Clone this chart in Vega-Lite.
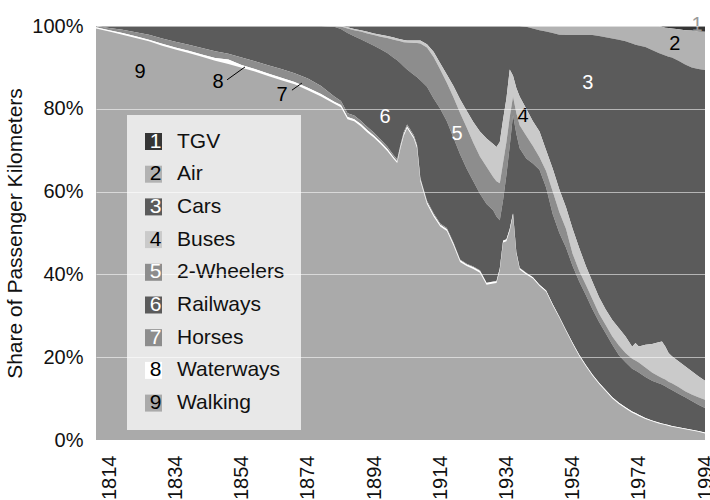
{
  "$schema": "https://vega.github.io/schema/vega-lite/v6.json",
  "width": 609,
  "height": 414,
  "autosize": {"type": "none"},
  "padding": {"left": 96, "top": 26, "right": 5, "bottom": 60},
  "background": "white",
  "config": {"font": "Liberation Sans", "view": {"stroke": null}},
  "layer": [
    {
      "data": {"values": [
        {"year":1810,"9 Walking":99.4,"8 Waterways":0.3,"7 Horses":0.3,"6 Railways":0,"5 2-Wheelers":0,"4 Buses":0,"3 Cars":0,"2 Air":0,"1 TGV":0},
        {"year":1814,"9 Walking":98.7,"8 Waterways":0.3,"7 Horses":0.5,"6 Railways":0.5,"5 2-Wheelers":0,"4 Buses":0,"3 Cars":0,"2 Air":0,"1 TGV":0},
        {"year":1818,"9 Walking":97.9,"8 Waterways":0.4,"7 Horses":0.8,"6 Railways":0.9,"5 2-Wheelers":0,"4 Buses":0,"3 Cars":0,"2 Air":0,"1 TGV":0},
        {"year":1822,"9 Walking":97.1,"8 Waterways":0.4,"7 Horses":1.0,"6 Railways":1.5,"5 2-Wheelers":0,"4 Buses":0,"3 Cars":0,"2 Air":0,"1 TGV":0},
        {"year":1826,"9 Walking":96.3,"8 Waterways":0.4,"7 Horses":1.2,"6 Railways":2.1,"5 2-Wheelers":0,"4 Buses":0,"3 Cars":0,"2 Air":0,"1 TGV":0},
        {"year":1830,"9 Walking":95.2,"8 Waterways":0.5,"7 Horses":1.3,"6 Railways":3.0,"5 2-Wheelers":0,"4 Buses":0,"3 Cars":0,"2 Air":0,"1 TGV":0},
        {"year":1834,"9 Walking":94.3,"8 Waterways":0.5,"7 Horses":1.4,"6 Railways":3.8,"5 2-Wheelers":0,"4 Buses":0,"3 Cars":0,"2 Air":0,"1 TGV":0},
        {"year":1838,"9 Walking":93.5,"8 Waterways":0.5,"7 Horses":1.5,"6 Railways":4.5,"5 2-Wheelers":0,"4 Buses":0,"3 Cars":0,"2 Air":0,"1 TGV":0},
        {"year":1842,"9 Walking":92.6,"8 Waterways":0.5,"7 Horses":1.6,"6 Railways":5.3,"5 2-Wheelers":0,"4 Buses":0,"3 Cars":0,"2 Air":0,"1 TGV":0},
        {"year":1846,"9 Walking":91.6,"8 Waterways":0.7,"7 Horses":1.6,"6 Railways":6.1,"5 2-Wheelers":0,"4 Buses":0,"3 Cars":0,"2 Air":0,"1 TGV":0},
        {"year":1850,"9 Walking":90.8,"8 Waterways":1.1,"7 Horses":1.4,"6 Railways":6.7,"5 2-Wheelers":0,"4 Buses":0,"3 Cars":0,"2 Air":0,"1 TGV":0},
        {"year":1854,"9 Walking":89.9,"8 Waterways":0.7,"7 Horses":1.8,"6 Railways":7.6,"5 2-Wheelers":0,"4 Buses":0,"3 Cars":0,"2 Air":0,"1 TGV":0},
        {"year":1858,"9 Walking":89.0,"8 Waterways":0.6,"7 Horses":1.9,"6 Railways":8.5,"5 2-Wheelers":0,"4 Buses":0,"3 Cars":0,"2 Air":0,"1 TGV":0},
        {"year":1862,"9 Walking":87.9,"8 Waterways":0.6,"7 Horses":2.0,"6 Railways":9.5,"5 2-Wheelers":0,"4 Buses":0,"3 Cars":0,"2 Air":0,"1 TGV":0},
        {"year":1866,"9 Walking":86.9,"8 Waterways":0.6,"7 Horses":2.1,"6 Railways":10.4,"5 2-Wheelers":0,"4 Buses":0,"3 Cars":0,"2 Air":0,"1 TGV":0},
        {"year":1870,"9 Walking":85.9,"8 Waterways":0.6,"7 Horses":2.1,"6 Railways":11.4,"5 2-Wheelers":0,"4 Buses":0,"3 Cars":0,"2 Air":0,"1 TGV":0},
        {"year":1874,"9 Walking":84.5,"8 Waterways":0.6,"7 Horses":2.2,"6 Railways":12.7,"5 2-Wheelers":0,"4 Buses":0,"3 Cars":0,"2 Air":0,"1 TGV":0},
        {"year":1878,"9 Walking":83.0,"8 Waterways":0.6,"7 Horses":1.9,"6 Railways":14.5,"5 2-Wheelers":0,"4 Buses":0,"3 Cars":0,"2 Air":0,"1 TGV":0},
        {"year":1882,"9 Walking":81.2,"8 Waterways":0.5,"7 Horses":1.3,"6 Railways":16.8,"5 2-Wheelers":0.2,"4 Buses":0,"3 Cars":0,"2 Air":0,"1 TGV":0},
        {"year":1884,"9 Walking":80.4,"8 Waterways":0.5,"7 Horses":1.0,"6 Railways":17.4,"5 2-Wheelers":0.6,"4 Buses":0.1,"3 Cars":0,"2 Air":0,"1 TGV":0},
        {"year":1886,"9 Walking":77.5,"8 Waterways":0.5,"7 Horses":0.9,"6 Railways":19.4,"5 2-Wheelers":1.1,"4 Buses":0.3,"3 Cars":0.3,"2 Air":0,"1 TGV":0},
        {"year":1888,"9 Walking":77.0,"8 Waterways":0.5,"7 Horses":0.9,"6 Railways":19.1,"5 2-Wheelers":1.5,"4 Buses":0.3,"3 Cars":0.7,"2 Air":0,"1 TGV":0},
        {"year":1890,"9 Walking":75.8,"8 Waterways":0.5,"7 Horses":0.8,"6 Railways":19.7,"5 2-Wheelers":1.9,"4 Buses":0.3,"3 Cars":1.0,"2 Air":0,"1 TGV":0},
        {"year":1892,"9 Walking":74.3,"8 Waterways":0.5,"7 Horses":0.8,"6 Railways":20.4,"5 2-Wheelers":2.2,"4 Buses":0.4,"3 Cars":1.4,"2 Air":0,"1 TGV":0},
        {"year":1894,"9 Walking":73.0,"8 Waterways":0.5,"7 Horses":0.7,"6 Railways":21.0,"5 2-Wheelers":2.6,"4 Buses":0.4,"3 Cars":1.8,"2 Air":0,"1 TGV":0},
        {"year":1896,"9 Walking":71.5,"8 Waterways":0.5,"7 Horses":0.6,"6 Railways":21.8,"5 2-Wheelers":3.0,"4 Buses":0.5,"3 Cars":2.1,"2 Air":0,"1 TGV":0},
        {"year":1898,"9 Walking":69.8,"8 Waterways":0.5,"7 Horses":0.6,"6 Railways":22.6,"5 2-Wheelers":3.6,"4 Buses":0.5,"3 Cars":2.4,"2 Air":0,"1 TGV":0},
        {"year":1900,"9 Walking":67.8,"8 Waterways":0.4,"7 Horses":0.5,"6 Railways":23.6,"5 2-Wheelers":4.4,"4 Buses":0.5,"3 Cars":2.8,"2 Air":0,"1 TGV":0},
        {"year":1901,"9 Walking":66.9,"8 Waterways":0.4,"7 Horses":0.5,"6 Railways":23.9,"5 2-Wheelers":4.8,"4 Buses":0.5,"3 Cars":3.0,"2 Air":0,"1 TGV":0},
        {"year":1902,"9 Walking":70.5,"8 Waterways":0.4,"7 Horses":0.5,"6 Railways":19.6,"5 2-Wheelers":5.3,"4 Buses":0.5,"3 Cars":3.2,"2 Air":0,"1 TGV":0},
        {"year":1903,"9 Walking":73.5,"8 Waterways":0.4,"7 Horses":0.5,"6 Railways":15.8,"5 2-Wheelers":5.9,"4 Buses":0.5,"3 Cars":3.4,"2 Air":0,"1 TGV":0},
        {"year":1904,"9 Walking":75.3,"8 Waterways":0.4,"7 Horses":0.5,"6 Railways":13.3,"5 2-Wheelers":6.5,"4 Buses":0.5,"3 Cars":3.5,"2 Air":0,"1 TGV":0},
        {"year":1906,"9 Walking":72.8,"8 Waterways":0.4,"7 Horses":0.5,"6 Railways":14.5,"5 2-Wheelers":7.7,"4 Buses":0.6,"3 Cars":3.5,"2 Air":0,"1 TGV":0},
        {"year":1907,"9 Walking":70.5,"8 Waterways":0.4,"7 Horses":0.4,"6 Railways":16.3,"5 2-Wheelers":8.3,"4 Buses":0.6,"3 Cars":3.5,"2 Air":0,"1 TGV":0},
        {"year":1908,"9 Walking":62.5,"8 Waterways":0.4,"7 Horses":0.4,"6 Railways":23.6,"5 2-Wheelers":8.9,"4 Buses":0.7,"3 Cars":3.5,"2 Air":0,"1 TGV":0},
        {"year":1910,"9 Walking":57.0,"8 Waterways":0.4,"7 Horses":0.4,"6 Railways":27.5,"5 2-Wheelers":9.5,"4 Buses":0.8,"3 Cars":4.4,"2 Air":0,"1 TGV":0},
        {"year":1912,"9 Walking":54.0,"8 Waterways":0.4,"7 Horses":0.4,"6 Railways":27.7,"5 2-Wheelers":10.0,"4 Buses":1.3,"3 Cars":6.2,"2 Air":0,"1 TGV":0},
        {"year":1914,"9 Walking":51.6,"8 Waterways":0.4,"7 Horses":0.3,"6 Railways":27.7,"5 2-Wheelers":9.5,"4 Buses":1.5,"3 Cars":9.0,"2 Air":0,"1 TGV":0},
        {"year":1916,"9 Walking":50.5,"8 Waterways":0.4,"7 Horses":0.3,"6 Railways":25.8,"5 2-Wheelers":9.3,"4 Buses":2.0,"3 Cars":11.7,"2 Air":0,"1 TGV":0},
        {"year":1918,"9 Walking":47.0,"8 Waterways":0.4,"7 Horses":0.3,"6 Railways":25.3,"5 2-Wheelers":9.8,"4 Buses":2.7,"3 Cars":14.5,"2 Air":0,"1 TGV":0},
        {"year":1920,"9 Walking":43.0,"8 Waterways":0.4,"7 Horses":0.2,"6 Railways":25.4,"5 2-Wheelers":10.0,"4 Buses":3.3,"3 Cars":17.7,"2 Air":0,"1 TGV":0},
        {"year":1922,"9 Walking":42.0,"8 Waterways":0.4,"7 Horses":0.2,"6 Railways":22.9,"5 2-Wheelers":10.0,"4 Buses":4.0,"3 Cars":20.5,"2 Air":0,"1 TGV":0},
        {"year":1924,"9 Walking":41.3,"8 Waterways":0.4,"7 Horses":0.2,"6 Railways":20.6,"5 2-Wheelers":9.3,"4 Buses":5.0,"3 Cars":23.2,"2 Air":0,"1 TGV":0},
        {"year":1926,"9 Walking":40.4,"8 Waterways":0.4,"7 Horses":0.2,"6 Railways":18.5,"5 2-Wheelers":9.0,"4 Buses":6.0,"3 Cars":25.5,"2 Air":0,"1 TGV":0},
        {"year":1928,"9 Walking":37.5,"8 Waterways":0.4,"7 Horses":0.1,"6 Railways":19.0,"5 2-Wheelers":9.0,"4 Buses":6.8,"3 Cars":27.2,"2 Air":0,"1 TGV":0},
        {"year":1930,"9 Walking":37.8,"8 Waterways":0.4,"7 Horses":0.1,"6 Railways":17.2,"5 2-Wheelers":8.0,"4 Buses":8.0,"3 Cars":28.5,"2 Air":0,"1 TGV":0},
        {"year":1931,"9 Walking":37.9,"8 Waterways":0.4,"7 Horses":0.1,"6 Railways":15.6,"5 2-Wheelers":8.5,"4 Buses":8.3,"3 Cars":29.2,"2 Air":0,"1 TGV":0},
        {"year":1932,"9 Walking":41.0,"8 Waterways":0.4,"7 Horses":0.1,"6 Railways":11.6,"5 2-Wheelers":8.9,"4 Buses":10.0,"3 Cars":28.0,"2 Air":0,"1 TGV":0},
        {"year":1933,"9 Walking":47.7,"8 Waterways":0.4,"7 Horses":0.1,"6 Railways":9.8,"5 2-Wheelers":9.0,"4 Buses":10.5,"3 Cars":22.5,"2 Air":0,"1 TGV":0},
        {"year":1934,"9 Walking":48.0,"8 Waterways":0.4,"7 Horses":0.1,"6 Railways":15.5,"5 2-Wheelers":8.0,"4 Buses":10.5,"3 Cars":17.5,"2 Air":0,"1 TGV":0},
        {"year":1935,"9 Walking":50.5,"8 Waterways":0.4,"7 Horses":0.1,"6 Railways":20.0,"5 2-Wheelers":7.0,"4 Buses":11.5,"3 Cars":10.5,"2 Air":0,"1 TGV":0},
        {"year":1936,"9 Walking":54.3,"8 Waterways":0.4,"7 Horses":0.1,"6 Railways":23.7,"5 2-Wheelers":4.5,"4 Buses":5.0,"3 Cars":12.0,"2 Air":0,"1 TGV":0},
        {"year":1937,"9 Walking":45.0,"8 Waterways":0.3,"7 Horses":0.1,"6 Railways":28.6,"5 2-Wheelers":5.0,"4 Buses":6.0,"3 Cars":15.0,"2 Air":0,"1 TGV":0},
        {"year":1938,"9 Walking":41.2,"8 Waterways":0.3,"7 Horses":0.1,"6 Railways":28.9,"5 2-Wheelers":5.5,"4 Buses":7.0,"3 Cars":17.0,"2 Air":0,"1 TGV":0},
        {"year":1940,"9 Walking":40.0,"8 Waterways":0.3,"7 Horses":0.1,"6 Railways":27.6,"5 2-Wheelers":5.5,"4 Buses":6.5,"3 Cars":19.8,"2 Air":0.2,"1 TGV":0},
        {"year":1942,"9 Walking":39.0,"8 Waterways":0.3,"7 Horses":0,"6 Railways":27.5,"5 2-Wheelers":4.2,"4 Buses":6.0,"3 Cars":22.4,"2 Air":0.6,"1 TGV":0},
        {"year":1944,"9 Walking":37.2,"8 Waterways":0.3,"7 Horses":0,"6 Railways":27.8,"5 2-Wheelers":3.0,"4 Buses":6.2,"3 Cars":24.5,"2 Air":1.0,"1 TGV":0},
        {"year":1946,"9 Walking":35.8,"8 Waterways":0.3,"7 Horses":0,"6 Railways":24.9,"5 2-Wheelers":4.0,"4 Buses":5.0,"3 Cars":28.7,"2 Air":1.3,"1 TGV":0},
        {"year":1948,"9 Walking":32.5,"8 Waterways":0.3,"7 Horses":0,"6 Railways":21.7,"5 2-Wheelers":5.5,"4 Buses":5.5,"3 Cars":32.8,"2 Air":1.7,"1 TGV":0},
        {"year":1950,"9 Walking":29.5,"8 Waterways":0.3,"7 Horses":0,"6 Railways":20.2,"5 2-Wheelers":5.0,"4 Buses":5.5,"3 Cars":37.4,"2 Air":2.1,"1 TGV":0},
        {"year":1952,"9 Walking":26.3,"8 Waterways":0.3,"7 Horses":0,"6 Railways":19.9,"5 2-Wheelers":4.5,"4 Buses":5.2,"3 Cars":41.6,"2 Air":2.2,"1 TGV":0},
        {"year":1954,"9 Walking":23.2,"8 Waterways":0.3,"7 Horses":0,"6 Railways":18.5,"5 2-Wheelers":3.0,"4 Buses":6.0,"3 Cars":46.8,"2 Air":2.2,"1 TGV":0},
        {"year":1956,"9 Walking":20.3,"8 Waterways":0.3,"7 Horses":0,"6 Railways":17.7,"5 2-Wheelers":2.5,"4 Buses":5.6,"3 Cars":51.4,"2 Air":2.2,"1 TGV":0},
        {"year":1958,"9 Walking":17.8,"8 Waterways":0.3,"7 Horses":0,"6 Railways":16.9,"5 2-Wheelers":2.5,"4 Buses":4.5,"3 Cars":55.8,"2 Air":2.2,"1 TGV":0},
        {"year":1960,"9 Walking":15.5,"8 Waterways":0.3,"7 Horses":0,"6 Railways":15.8,"5 2-Wheelers":2.4,"4 Buses":4.2,"3 Cars":59.6,"2 Air":2.2,"1 TGV":0},
        {"year":1962,"9 Walking":13.5,"8 Waterways":0.3,"7 Horses":0,"6 Railways":14.7,"5 2-Wheelers":2.0,"4 Buses":4.0,"3 Cars":63.1,"2 Air":2.4,"1 TGV":0},
        {"year":1964,"9 Walking":11.8,"8 Waterways":0.3,"7 Horses":0,"6 Railways":13.7,"5 2-Wheelers":2.0,"4 Buses":3.7,"3 Cars":65.8,"2 Air":2.7,"1 TGV":0},
        {"year":1966,"9 Walking":10.0,"8 Waterways":0.3,"7 Horses":0,"6 Railways":12.7,"5 2-Wheelers":2.0,"4 Buses":4.0,"3 Cars":68.0,"2 Air":3.0,"1 TGV":0},
        {"year":1968,"9 Walking":8.7,"8 Waterways":0.3,"7 Horses":0,"6 Railways":11.5,"5 2-Wheelers":2.3,"4 Buses":4.2,"3 Cars":69.7,"2 Air":3.3,"1 TGV":0},
        {"year":1970,"9 Walking":7.6,"8 Waterways":0.3,"7 Horses":0,"6 Railways":10.9,"5 2-Wheelers":2.2,"4 Buses":4.0,"3 Cars":71.3,"2 Air":3.7,"1 TGV":0},
        {"year":1972,"9 Walking":6.6,"8 Waterways":0.3,"7 Horses":0,"6 Railways":10.3,"5 2-Wheelers":2.4,"4 Buses":2.9,"3 Cars":73.3,"2 Air":4.2,"1 TGV":0},
        {"year":1973,"9 Walking":6.2,"8 Waterways":0.3,"7 Horses":0,"6 Railways":10.3,"5 2-Wheelers":2.4,"4 Buses":4.2,"3 Cars":72.1,"2 Air":4.5,"1 TGV":0},
        {"year":1974,"9 Walking":5.8,"8 Waterways":0.3,"7 Horses":0,"6 Railways":10.2,"5 2-Wheelers":2.4,"4 Buses":3.9,"3 Cars":72.7,"2 Air":4.7,"1 TGV":0},
        {"year":1976,"9 Walking":5.1,"8 Waterways":0.2,"7 Horses":0,"6 Railways":9.9,"5 2-Wheelers":2.3,"4 Buses":5.5,"3 Cars":71.9,"2 Air":5.1,"1 TGV":0},
        {"year":1978,"9 Walking":4.5,"8 Waterways":0.2,"7 Horses":0,"6 Railways":9.6,"5 2-Wheelers":2.0,"4 Buses":6.9,"3 Cars":71.0,"2 Air":5.8,"1 TGV":0},
        {"year":1980,"9 Walking":4.0,"8 Waterways":0.2,"7 Horses":0,"6 Railways":9.5,"5 2-Wheelers":1.7,"4 Buses":8.2,"3 Cars":69.9,"2 Air":6.5,"1 TGV":0},
        {"year":1981,"9 Walking":3.8,"8 Waterways":0.2,"7 Horses":0,"6 Railways":9.4,"5 2-Wheelers":1.6,"4 Buses":8.8,"3 Cars":69.4,"2 Air":6.6,"1 TGV":0.2},
        {"year":1982,"9 Walking":3.6,"8 Waterways":0.2,"7 Horses":0,"6 Railways":9.2,"5 2-Wheelers":1.6,"4 Buses":8.0,"3 Cars":70.3,"2 Air":6.7,"1 TGV":0.4},
        {"year":1983,"9 Walking":3.4,"8 Waterways":0.2,"7 Horses":0,"6 Railways":8.9,"5 2-Wheelers":1.6,"4 Buses":6.9,"3 Cars":71.6,"2 Air":6.9,"1 TGV":0.5},
        {"year":1984,"9 Walking":3.2,"8 Waterways":0.2,"7 Horses":0,"6 Railways":8.7,"5 2-Wheelers":1.6,"4 Buses":6.5,"3 Cars":72.2,"2 Air":7.0,"1 TGV":0.6},
        {"year":1986,"9 Walking":2.9,"8 Waterways":0.2,"7 Horses":0,"6 Railways":8.1,"5 2-Wheelers":1.6,"4 Buses":6.2,"3 Cars":72.6,"2 Air":7.6,"1 TGV":0.8},
        {"year":1988,"9 Walking":2.6,"8 Waterways":0.2,"7 Horses":0,"6 Railways":7.5,"5 2-Wheelers":1.5,"4 Buses":6.0,"3 Cars":72.9,"2 Air":8.3,"1 TGV":1.0},
        {"year":1990,"9 Walking":2.3,"8 Waterways":0.2,"7 Horses":0,"6 Railways":6.9,"5 2-Wheelers":1.6,"4 Buses":5.6,"3 Cars":73.4,"2 Air":8.9,"1 TGV":1.1},
        {"year":1992,"9 Walking":2.0,"8 Waterways":0.2,"7 Horses":0,"6 Railways":6.3,"5 2-Wheelers":1.8,"4 Buses":5.1,"3 Cars":74.2,"2 Air":9.1,"1 TGV":1.3},
        {"year":1994,"9 Walking":1.6,"8 Waterways":0.2,"7 Horses":0,"6 Railways":5.9,"5 2-Wheelers":2.0,"4 Buses":4.6,"3 Cars":75.1,"2 Air":9.2,"1 TGV":1.4}
      ]},
      "transform": [
        {"fold": ["1 TGV","2 Air","3 Cars","4 Buses","5 2-Wheelers","6 Railways","7 Horses","8 Waterways","9 Walking"], "as": ["key","share"]}
      ],
      "mark": {"type": "area", "interpolate": "linear"},
      "encoding": {
        "x": {"field": "year", "type": "quantitative", "title": null,
          "scale": {"domain": [1810, 1994], "nice": false, "zero": false},
          "axis": {"values": [1814,1834,1854,1874,1894,1914,1934,1954,1974,1994], "format": "d", "labelAngle": -90,
            "labelFontSize": 20, "labelColor": "#111111", "labelPadding": 15, "grid": false, "ticks": false, "domain": false,
            "labelFlush": false, "labelOverlap": false}},
        "y": {"field": "share", "type": "quantitative", "stack": "normalize", "title": "Share of Passenger Kilometers",
          "scale": {"domain": [0, 1], "nice": false},
          "axis": {"values": [0,0.2,0.4,0.6,0.8,1], "format": ".0%", "grid": true, "gridColor": "#ffffff", "gridOpacity": 0.55,
            "domain": false, "ticks": false, "labelFontSize": 20, "labelColor": "#111111", "labelPadding": 13,
            "titleFontSize": 21, "titleFontWeight": "normal", "titleColor": "#111111", "titlePadding": 6, "zindex": 1}},
        "color": {"field": "key", "type": "nominal",
          "scale": {"domain": ["1 TGV","2 Air","3 Cars","4 Buses","5 2-Wheelers","6 Railways","7 Horses","8 Waterways","9 Walking"],
            "range": ["#353535","#b2b2b2","#5b5b5b","#cacaca","#8d8d8d","#5b5b5b","#8d8d8d","#ffffff","#aaaaaa"]},
          "legend": {"orient": "none", "legendX": 31, "legendY": 89, "title": null, "padding": 16,
            "symbolType": "square", "symbolSize": 289, "symbolStrokeWidth": 0, "symbolOpacity": 1,
            "labelFontSize": 21, "labelFont": "Liberation Sans", "labelAlign": "center", "labelOffset": -8.5,
            "labelExpr": "substring(datum.label, 0, 1)", "rowPadding": 10.7, "zindex": 2,
            "encode": {"labels": {"update": {"fill": {"signal": "indexof(['1 TGV','3 Cars','5 2-Wheelers','6 Railways','7 Horses'], datum.value) >= 0 ? '#ffffff' : '#000000'"}}}}}},
        "order": {"field": "key", "type": "ordinal", "sort": "descending"}
      }
    },
    {
      "data": {"values": [
        {"year": 1849.6, "pos": 0.870, "year2": 1855.0, "pos2": 0.901},
        {"year": 1869.2, "pos": 0.845, "year2": 1872.2, "pos2": 0.862}
      ]},
      "mark": {"type": "rule", "color": "#000000", "strokeWidth": 1},
      "encoding": {
        "x": {"field": "year", "type": "quantitative", "title": null, "scale": {"domain": [1810, 1994], "nice": false, "zero": false}},
        "x2": {"field": "year2"},
        "y": {"field": "pos", "type": "quantitative", "title": "Share of Passenger Kilometers", "scale": {"domain": [0, 1], "nice": false}},
        "y2": {"field": "pos2"}
      }
    },
    {
      "data": {"values": [
        {"key": "9 Walking", "n": "9", "year": 1823.3, "pos": 0.889},
        {"key": "8 Waterways", "n": "8", "year": 1846.9, "pos": 0.865},
        {"key": "7 Horses", "n": "7", "year": 1866.2, "pos": 0.833},
        {"key": "6 Railways", "n": "6", "year": 1897.3, "pos": 0.780},
        {"key": "5 2-Wheelers", "n": "5", "year": 1919.1, "pos": 0.739},
        {"key": "4 Buses", "n": "4", "year": 1939.0, "pos": 0.783},
        {"key": "3 Cars", "n": "3", "year": 1958.6, "pos": 0.862},
        {"key": "2 Air", "n": "2", "year": 1984.9, "pos": 0.957},
        {"key": "1 TGV", "n": "1", "year": 1991.6, "pos": 1.002}
      ]},
      "mark": {"type": "text", "fontSize": 20, "font": "Liberation Sans"},
      "encoding": {
        "x": {"field": "year", "type": "quantitative", "title": null, "scale": {"domain": [1810, 1994], "nice": false, "zero": false}},
        "y": {"field": "pos", "type": "quantitative", "title": "Share of Passenger Kilometers", "scale": {"domain": [0, 1], "nice": false}},
        "text": {"field": "n"},
        "color": {"field": "key", "type": "nominal",
          "scale": {"domain": ["1 TGV","2 Air","3 Cars","4 Buses","5 2-Wheelers","6 Railways","7 Horses","8 Waterways","9 Walking"],
            "range": ["#9a9a9a","#000000","#ffffff","#000000","#ffffff","#ffffff","#000000","#000000","#000000"]},
          "legend": {"orient": "none", "legendX": 31, "legendY": 89, "title": null, "padding": 16,
            "symbolType": "square", "symbolSize": 289, "symbolStrokeWidth": 0, "symbolOpacity": 0,
            "labelFontSize": 21, "labelFont": "Liberation Sans", "labelColor": "#111111", "labelOffset": 13,
            "labelExpr": "substring(datum.label, 2)", "rowPadding": 10.7, "fillColor": "#e8e8e8", "zindex": 0}}
      }
    }
  ],
  "resolve": {"scale": {"color": "independent"}, "legend": {"color": "independent"}}
}
